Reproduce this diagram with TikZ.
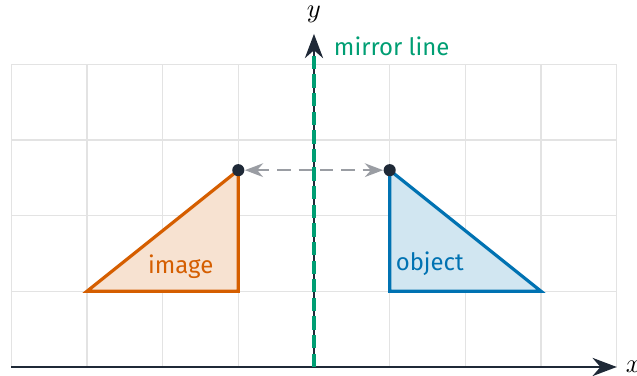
\documentclass[tikz,border=0pt]{standalone}
\usepackage{fontspec}
\setmainfont{Fira Sans}
\usepackage{tikz}
\usetikzlibrary{arrows.meta,positioning}
\definecolor{cimg}{HTML}{D55E00}
\definecolor{cobj}{HTML}{0072B2}
\definecolor{cmir}{HTML}{009E73}
\definecolor{caxis}{HTML}{1F2937}
\definecolor{cgrid}{HTML}{E3E3E3}
\definecolor{cgrey}{HTML}{9A9DA3}
\tikzset{
  gridline/.style={draw=cgrid, line width=0.5pt},
  axis/.style={-{Stealth[length=3.2mm,width=2.4mm]}, draw=caxis, line width=1pt},
  mirror/.style={draw=cmir, line width=1.6pt, dash pattern=on 5pt off 2pt},
  objtri/.style={draw=cobj, fill=cobj!18, line width=1.2pt, line join=miter},
  imgtri/.style={draw=cimg, fill=cimg!18, line width=1.2pt, line join=miter},
  link/.style={{Stealth[length=2.4mm]}-{Stealth[length=2.4mm]}, draw=cgrey, line width=0.9pt, dash pattern=on 5pt off 3pt},
  vtx/.style={circle, fill=caxis, inner sep=0pt, minimum size=1.6mm},
  lbl/.style={font=\small},
}
\begin{document}
\begin{tikzpicture}[x=1cm,y=1cm]
\useasboundingbox (-4.148,-0.119) rectangle (4.267,4.848);
% grid
\draw[gridline] (-4,0) grid (4,4);
% the two triangles
\coordinate (oa) at (1,1); \coordinate (ob) at (3,1); \coordinate (oc) at (1,2.6);
\coordinate (ia) at (-1,1); \coordinate (ib) at (-3,1); \coordinate (ic) at (-1,2.6);
\draw[imgtri] (ia) -- (ib) -- (ic) -- cycle;
\draw[objtri] (oa) -- (ob) -- (oc) -- cycle;
\node[lbl, text=cobj] (objl) at (1.53,1.36) {object};
\node[lbl, text=cimg] (imgl) at (-1.76,1.32) {image};
% axes
\coordinate (xo) at (-4,0); \coordinate (xe) at (4,0);
\coordinate (yo) at (0,0); \coordinate (ye) at (0,4.4);
\draw[axis] (xo) -- (xe);
\draw[axis] (yo) -- (ye);
\node[lbl, font=\normalsize] (xl) at (4.22,0) {$x$};
\node[lbl, font=\normalsize] (yl) at (0,4.66) {$y$};
% mirror line
\coordinate (ma) at (0,0); \coordinate (mb) at (0,4.12);
\draw[mirror] (ma) -- (mb);
\node[lbl, anchor=west, text=cmir] (ml) at (0.14,4.24) {mirror line};
% distance link
\node[vtx] (pi) at (ic) {};
\node[vtx] (po) at (oc) {};
\draw[link] (pi) -- (po);
\end{tikzpicture}
\end{document}
